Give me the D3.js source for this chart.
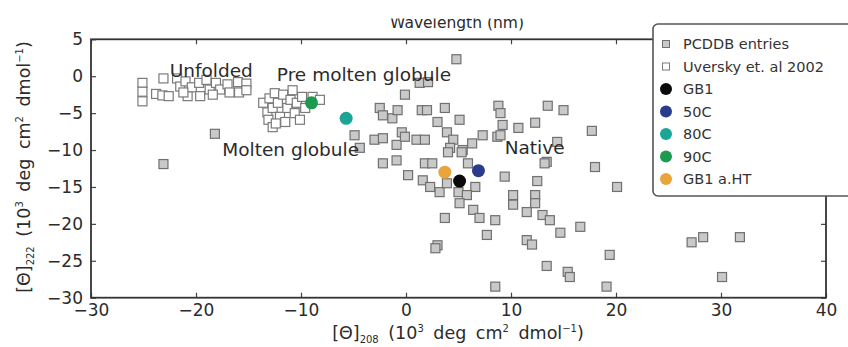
<!DOCTYPE html>
<html>
<head>
<meta charset="utf-8">
<script src="https://cdn.jsdelivr.net/npm/d3@7"></script>
<style>
  html, body { margin: 0; padding: 0; background: #fff; }
  svg { display: block; font-family: "DejaVu Sans", sans-serif; }
</style>
</head>
<body>
<svg id="chart" width="848" height="347"></svg>
<script>
// Mean residue ellipticity at 208 nm vs 222 nm (10^3 deg cm^2 dmol^-1)

// PCDDB database entries [theta208, theta222]
const pcddb = [
  [-23.1,-11.9],[-18.2,-7.8],[4.8,2.3],[1.3,-0.9],[2.1,-0.8],[-0.1,-2.5],
  [-2.5,-4.3],[-2.2,-5.3],[-1.3,-5.7],[-0.8,-4.6],[1.5,-4.6],[2.0,-4.6],
  [3.7,-4.3],[3.0,-6.2],[5.1,-5.9],[-0.4,-7.6],[-3.0,-8.6],[-2.2,-8.4],
  [-0.9,-9.3],[-0.1,-8.2],[1.0,-8.6],[1.8,-8.6],[3.9,-7.6],[4.5,-8.6],
  [6.3,-9.1],[7.3,-8.0],[8.7,-8.2],[8.8,-4.0],[9.0,-5.0],[9.2,-6.6],
  [9.0,-8.0],[10.7,-7.0],[12.3,-6.3],[13.5,-4.0],[15.0,-4.6],[17.7,-7.4],
  [14.4,-8.9],[-4.9,-8.0],[-4.4,-9.7],[5.4,-10.0],[4.2,-9.7],[13.4,-11.6],
  [18.0,-12.3],[9.4,-13.6],[12.5,-14.2],[20.1,-15.0],[-2.2,-11.8],[-0.9,-11.4],
  [1.8,-11.8],[2.5,-11.8],[4.0,-10.3],[5.3,-10.3],[5.9,-11.8],[0.2,-13.4],
  [1.6,-14.1],[2.3,-15.0],[3.2,-15.7],[3.9,-14.5],[5.0,-15.7],[6.6,-15.0],
  [5.8,-16.1],[5.1,-17.2],[6.4,-18.1],[7.0,-19.2],[8.5,-19.5],[3.7,-19.2],
  [7.7,-21.5],[3.0,-22.9],[2.8,-23.3],[10.2,-16.1],[10.2,-17.4],[12.3,-16.1],
  [12.3,-17.2],[11.5,-18.4],[13.0,-18.8],[13.7,-19.5],[11.5,-22.2],[12.0,-22.8],
  [13.4,-25.7],[13.2,-11.8],[14.7,-21.2],[16.6,-20.4],[15.4,-26.5],[15.6,-27.2],
  [19.4,-24.2],[19.1,-28.5],[8.5,-28.5],[27.2,-22.5],[28.3,-21.8],[31.8,-21.8],
  [30.1,-27.2]
];

// Uversky et al. 2002 (unfolded and pre-molten globule proteins)
const uversky = [
  [-25.1,-0.9],[-25.1,-2.1],[-25.1,-3.4],[-23.8,-2.4],[-23.2,-2.6],[-23.1,-0.3],
  [-22.6,-2.7],[-21.8,-0.3],[-21.5,-1.4],[-21.0,-0.7],[-20.8,-2.7],[-20.4,-1.5],
  [-19.7,-0.9],[-19.6,-2.7],[-19.0,-0.5],[-18.7,-1.8],[-18.1,-0.9],[-17.7,-1.8],
  [-17.0,-1.1],[-16.8,-2.2],[-16.0,-0.8],[-15.9,-2.2],[-15.2,-1.0],[-15.2,-1.9],
  [-18.4,-2.5],[-21.2,-2.2],
  [-13.6,-3.6],[-13.2,-4.9],[-13.0,-3.0],[-12.5,-2.3],[-12.7,-4.3],[-12.2,-3.6],
  [-13.1,-5.9],[-12.7,-6.9],[-12.0,-5.5],[-11.7,-2.5],[-11.3,-4.3],[-11.0,-3.2],
  [-10.8,-1.9],[-10.6,-5.0],[-10.1,-5.9],[-10.4,-3.6],[-9.9,-2.8],[-9.6,-4.3],
  [-8.9,-2.8],[-8.2,-3.2],[-11.5,-6.2],[-12.4,-6.4]
];

// GB1 measurements
const gb1Names  = ["GB1", "50C", "80C", "90C", "GB1 a.HT"];
const gb1Values = [[5.1,-14.2],[6.9,-12.8],[-5.7,-5.7],[-9.0,-3.6],[3.7,-13.0]];
const gb1Colors = ["#0a0a0a", "#2c3a8c", "#1aa596", "#1c9a4e", "#e9a43c"];

// Region annotations
const regionNames  = ["Unfolded", "Pre molten globule", "Molten globule", "Native"];
const regionAnchor = [[-22.5,-0.1],[-12.3,-0.7],[-17.5,-10.8],[9.4,-10.5]];

const xTicks = [-30,-20,-10,0,10,20,30,40];
const yTicks = [-30,-25,-20,-15,-10,-5,0,5];

const svg = d3.select("#chart");
const x = d3.scaleLinear().domain([-30, 40]).range([91, 826]);
const y = d3.scaleLinear().domain([-30, 5]).range([297.7, 39.3]);
const ink = "#2b2b2b";

// top title for the twin axis (upper edge cropped)
svg.append("clipPath").attr("id", "topclip")
  .append("rect").attr("x", 0).attr("y", 18.5).attr("width", 848).attr("height", 30);
svg.append("text")
  .attr("clip-path", "url(#topclip)")
  .attr("x", 457).attr("y", 28)
  .attr("text-anchor", "middle")
  .attr("font-size", 15.5).attr("fill", ink)
  .text("Wavelength (nm)");

// axes with inward ticks
const gx = svg.append("g").attr("transform", `translate(0,${y(-30)})`)
  .call(d3.axisBottom(x).tickValues(xTicks).tickSizeInner(-5).tickSizeOuter(0).tickPadding(6)
    .tickFormat(d => d < 0 ? "\u2212" + Math.abs(d) : d));
const gy = svg.append("g").attr("transform", `translate(${x(-30)},0)`)
  .call(d3.axisLeft(y).tickValues(yTicks).tickSizeInner(-5).tickSizeOuter(0).tickPadding(8)
    .tickFormat(d => d < 0 ? "\u2212" + Math.abs(d) : d));
const gt = svg.append("g").attr("transform", `translate(0,${y(5)})`)
  .call(d3.axisTop(x).tickValues(xTicks).tickSizeInner(-5).tickSizeOuter(0).tickFormat(""));
const gr = svg.append("g").attr("transform", `translate(${x(40)},0)`)
  .call(d3.axisRight(y).tickValues(yTicks).tickSizeInner(-5).tickSizeOuter(0).tickFormat(""));
[gx, gy, gt, gr].forEach(g => {
  g.select(".domain").remove();
  g.selectAll(".tick line").attr("stroke", "#444").attr("stroke-width", 1.2);
  g.selectAll(".tick text").attr("font-size", 17).attr("fill", ink)
    .attr("font-family", "DejaVu Sans, sans-serif");
});

// frame
svg.append("rect")
  .attr("x", x(-30)).attr("y", y(5))
  .attr("width", x(40) - x(-30)).attr("height", y(-30) - y(5))
  .attr("fill", "none").attr("stroke", "#333").attr("stroke-width", 1.8);

// data layers
const plot = svg.append("g");
const sq = 9;
plot.selectAll("rect.pcddb").data(pcddb).join("rect")
  .attr("class", "pcddb")
  .attr("x", d => x(d[0]) - sq / 2).attr("y", d => y(d[1]) - sq / 2)
  .attr("width", sq).attr("height", sq)
  .attr("fill", "#c9c9c9").attr("stroke", "#707070").attr("stroke-width", 1.2);

const sq2 = 9;
plot.selectAll("rect.uv").data(uversky).join("rect")
  .attr("class", "uv")
  .attr("x", d => x(d[0]) - sq2 / 2).attr("y", d => y(d[1]) - sq2 / 2)
  .attr("width", sq2).attr("height", sq2)
  .attr("fill", "#ffffff").attr("stroke", "#7a7a7a").attr("stroke-width", 1.2);

// annotations
svg.selectAll("text.region").data(regionNames).join("text")
  .attr("class", "region")
  .attr("x", (d, i) => x(regionAnchor[i][0]))
  .attr("y", (d, i) => y(regionAnchor[i][1]))
  .attr("font-size", 18.5).attr("fill", ink)
  .text(d => d);

plot.selectAll("circle.gb1").data(gb1Values).join("circle")
  .attr("class", "gb1")
  .attr("cx", d => x(d[0])).attr("cy", d => y(d[1]))
  .attr("r", 6.5)
  .attr("fill", (d, i) => gb1Colors[i]);

// legend
const lg = svg.append("g");
lg.append("rect")
  .attr("x", 653).attr("y", 24).attr("width", 200).attr("height", 172)
  .attr("rx", 5).attr("ry", 5)
  .attr("fill", "#fff").attr("stroke", "#555").attr("stroke-width", 1.6);

const legendLabels = ["PCDDB entries", "Uversky et. al 2002"].concat(gb1Names);
const rowY = i => 44 + i * 22.5;
lg.selectAll("text").data(legendLabels).join("text")
  .attr("x", 683).attr("y", (d, i) => rowY(i)).attr("dy", "0.36em")
  .attr("font-size", 14.5).attr("fill", "#333")
  .text(d => d);
const lsq = 7;
lg.append("rect").attr("x", 666 - lsq / 2).attr("y", rowY(0) - lsq / 2)
  .attr("width", lsq).attr("height", lsq)
  .attr("fill", "#c9c9c9").attr("stroke", "#707070").attr("stroke-width", 1);
lg.append("rect").attr("x", 666 - lsq / 2).attr("y", rowY(1) - lsq / 2)
  .attr("width", lsq).attr("height", lsq)
  .attr("fill", "#fff").attr("stroke", "#7a7a7a").attr("stroke-width", 1);
lg.selectAll("circle").data(gb1Colors).join("circle")
  .attr("cx", 666).attr("cy", (d, i) => rowY(i + 2)).attr("r", 6)
  .attr("fill", d => d);

// axis titles: [Θ]_λ (10^3 deg cm^2 dmol^-1)
function axisTitle(sel, sub) {
  sel.attr("font-size", 17.5).attr("fill", ink).attr("word-spacing", 4);
  sel.append("tspan").text("[\u0398]");
  sel.append("tspan").attr("font-size", 10).attr("dy", 4).text(sub);
  sel.append("tspan").attr("dy", -4).text(" (10");
  sel.append("tspan").attr("font-size", 10).attr("dy", -7).text("3");
  sel.append("tspan").attr("dy", 7).text(" deg cm");
  sel.append("tspan").attr("font-size", 10).attr("dy", -7).text("2");
  sel.append("tspan").attr("dy", 7).text(" dmol");
  sel.append("tspan").attr("font-size", 10).attr("dy", -7).text("\u22121");
  sel.append("tspan").attr("dy", 7).text(")");
}
axisTitle(svg.append("text")
  .attr("x", 458).attr("y", 338.5).attr("text-anchor", "middle"), "208");
axisTitle(svg.append("text")
  .attr("transform", "translate(30,167) rotate(-90)")
  .attr("text-anchor", "middle"), "222");
</script>
</body>
</html>
